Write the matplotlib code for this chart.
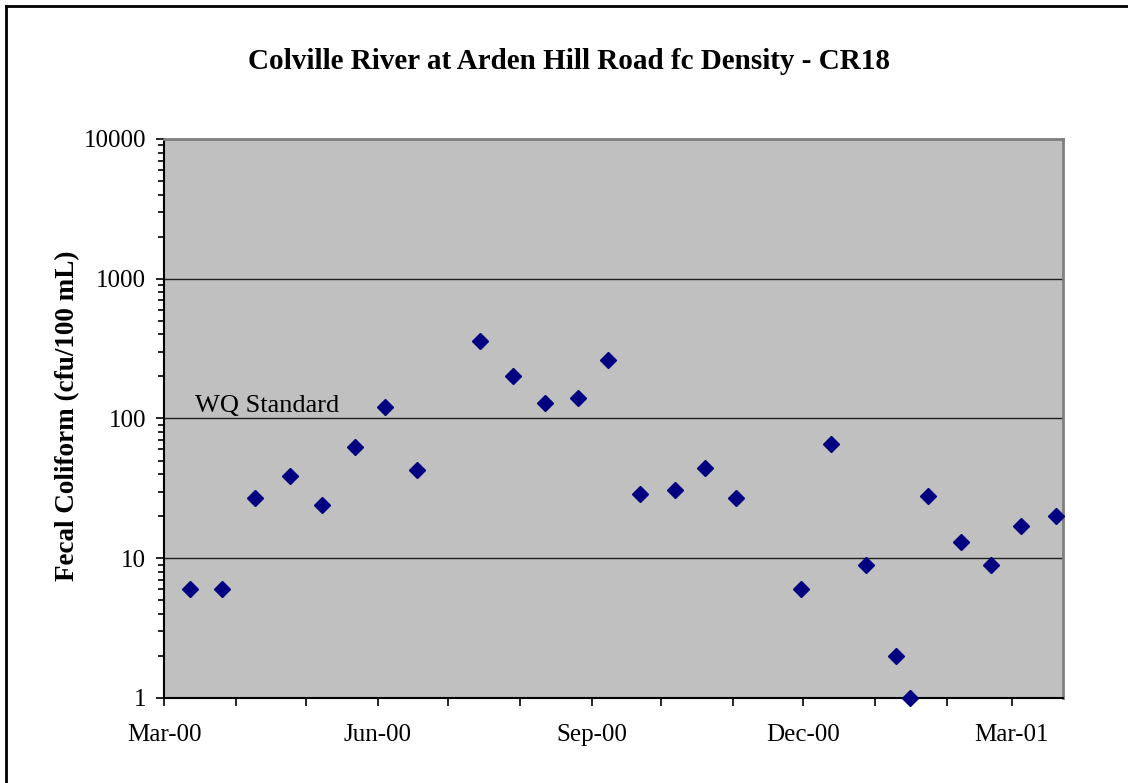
import numpy as np
import pandas as pd
import matplotlib
matplotlib.use("Agg")
import matplotlib.pyplot as plt
import matplotlib.dates as mdates
from matplotlib.lines import Line2D
from matplotlib.ticker import LogLocator, FixedLocator, NullFormatter

plt.rcParams['font.family'] = ['Liberation Serif', 'DejaVu Serif']

dates = ["2000-03-12", "2000-03-26", "2000-04-09", "2000-04-24", "2000-05-08",
         "2000-05-22", "2000-06-04", "2000-06-18", "2000-07-15", "2000-07-29",
         "2000-08-12", "2000-08-26", "2000-09-08", "2000-09-22", "2000-10-07",
         "2000-10-20", "2000-11-02", "2000-11-30", "2000-12-13", "2000-12-28",
         "2001-01-10", "2001-01-16", "2001-01-24", "2001-02-07", "2001-02-20",
         "2001-03-05", "2001-03-20"]
fc = [6, 6, 27, 39, 24, 63, 120, 43, 360, 200,
      130, 140, 260, 29, 31, 44, 27, 6, 66, 9,
      2, 1, 28, 13, 9, 17, 20]
wq_standard = 100
x_start, x_end = "2000-03-01", "2001-03-23"

dates = pd.to_datetime(dates)

fig = plt.figure(figsize=(11.28, 7.83), dpi=100)
ax = fig.add_axes([0.1457, 0.1086, 0.9424 - 0.1457, 0.8225 - 0.1086])
ax.set_facecolor('#c0c0c0')

ax.plot(dates, fc, linestyle='none', marker='D', markersize=8.2,
        color='#000080', clip_on=False, zorder=3)

ax.set_yscale('log')
ax.set_ylim(1, 10000)
ax.set_xlim(pd.Timestamp(x_start), pd.Timestamp(x_end))

# y ticks
ax.yaxis.set_major_locator(FixedLocator([1, 10, 100, 1000, 10000]))
ax.set_yticklabels(['1', '10', '100', '1000', '10000'])
ax.yaxis.set_minor_locator(LogLocator(base=10, subs=np.arange(2, 10)))
ax.yaxis.set_minor_formatter(NullFormatter())

# x ticks
ax.xaxis.set_major_locator(mdates.MonthLocator(bymonth=[3, 6, 9, 12]))
ax.xaxis.set_major_formatter(mdates.DateFormatter('%b-%y'))
ax.xaxis.set_minor_locator(mdates.MonthLocator())

ax.tick_params(axis='both', which='major', direction='out', length=6,
               width=1.2, labelsize=18, pad=7, color='black')
ax.tick_params(axis='y', which='minor', direction='out', length=4, width=1.2)
ax.tick_params(axis='x', which='minor', direction='out', length=6, width=1.2)
ax.tick_params(axis='x', which='major', pad=13)

ax.grid(axis='y', which='major', color='#202020', linewidth=1.0)
ax.set_axisbelow(True)

for side in ['top', 'right']:
    ax.spines[side].set_color('#808080')
    ax.spines[side].set_linewidth(2)
for side in ['left', 'bottom']:
    ax.spines[side].set_color('black')
    ax.spines[side].set_linewidth(1.5)

ax.set_ylabel('Fecal Coliform (cfu/100 mL)', fontsize=19.5, fontweight='bold')
ax.yaxis.set_label_coords(-0.094, 0.505)

ax.text(pd.Timestamp("2000-03-14"), wq_standard * 1.02, 'WQ Standard',
        fontsize=19, va='bottom', ha='left')

fig.text(0.5045, 0.922, 'Colville River at Arden Hill Road fc Density - CR18',
         fontsize=21, fontweight='bold', ha='center', va='center')

# outer frame (left and top only visible)
fig.add_artist(Line2D([6 / 1128, 6 / 1128], [0, 1 - 6 / 783], color='black',
                      linewidth=2, transform=fig.transFigure))
fig.add_artist(Line2D([6 / 1128, 1], [1 - 6 / 783, 1 - 6 / 783], color='black',
                      linewidth=2, transform=fig.transFigure))

fig.savefig('out.png', dpi=100)
